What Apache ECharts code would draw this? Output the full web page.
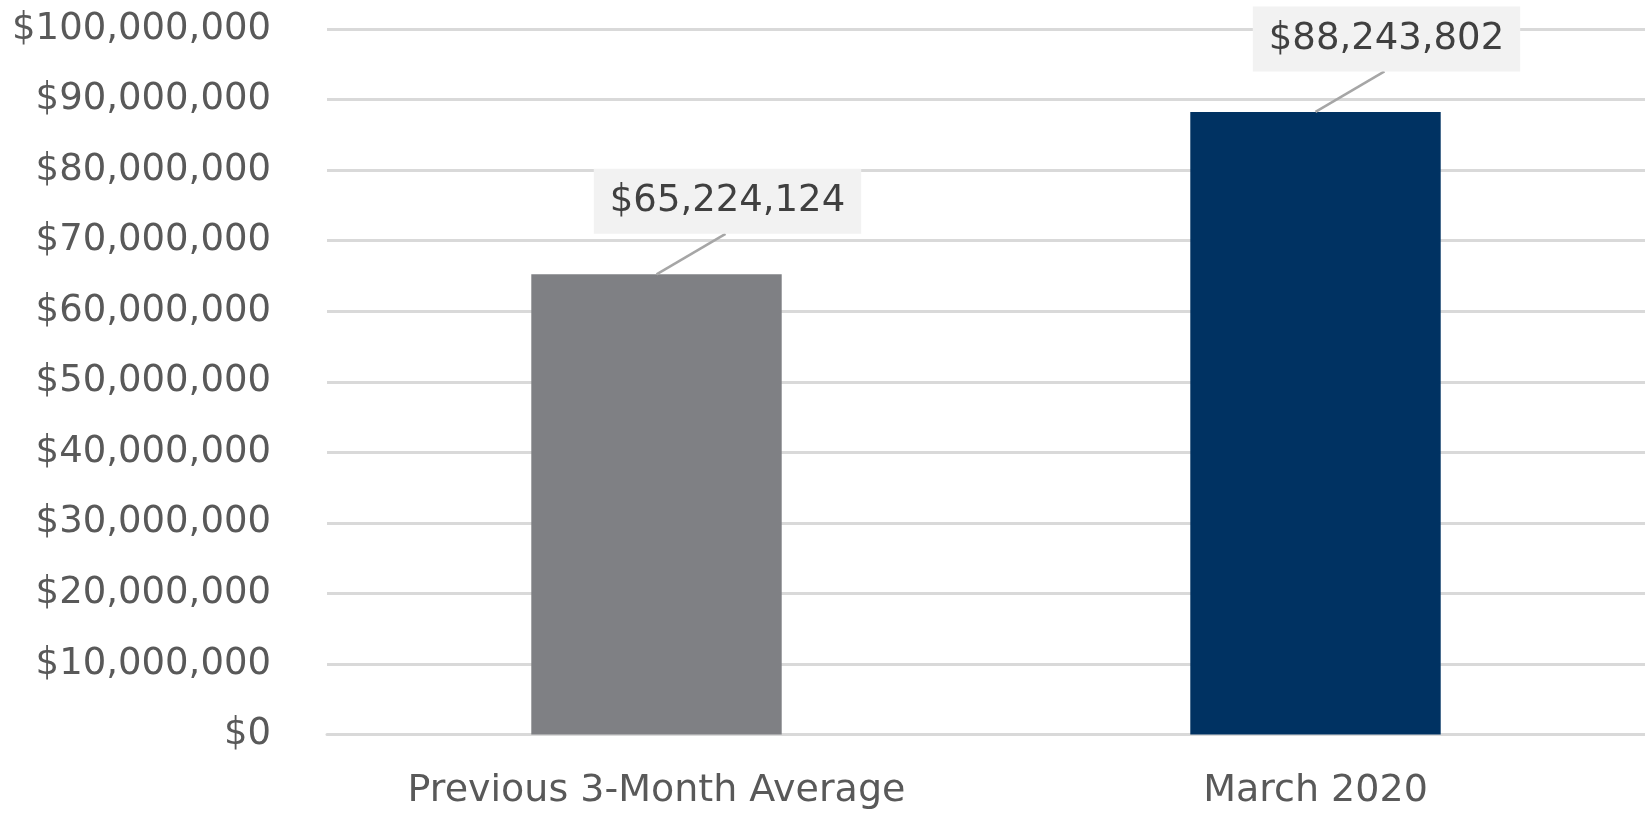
<!DOCTYPE html>
<html>
<head>
<meta charset="utf-8">
<script src="https://cdn.jsdelivr.net/npm/echarts@6/dist/echarts.min.js"></script>
<style>
html,body{margin:0;padding:0;background:#fff;}
#chart{width:1645px;height:816px;}
</style>
</head>
<body>
<div id="chart"></div>
<script>
const categories = ["Previous 3-Month Average", "March 2020"];
const values = [65224124, 88243802];
const barColors = ["#7F8084", "#003262"];
const yTicks = [0, 10000000, 20000000, 30000000, 40000000, 50000000, 60000000, 70000000, 80000000, 90000000, 100000000];

function money(v){ return "$" + Math.round(v).toLocaleString("en-US"); }

const LABEL_DX = 71, LABEL_DY = -73, BOX_H = 65;

const chart = echarts.init(document.getElementById("chart"));
chart.setOption({
  animation: false,
  backgroundColor: "#ffffff",
  grid: { left: 327, right: 0, top: 29, bottom: 81.5, containLabel: false },
  xAxis: {
    type: "category",
    data: categories,
    axisLine: { show: true, lineStyle: { color: "#D9D9D9", width: 3 } },
    axisTick: { show: false },
    axisLabel: { color: "#595959", fontFamily: "DejaVu Sans", fontSize: 38, margin: 38 }
  },
  yAxis: {
    type: "value",
    min: yTicks[0],
    max: yTicks[yTicks.length - 1],
    interval: yTicks[1] - yTicks[0],
    axisLine: { show: false },
    axisTick: { show: false },
    splitLine: { lineStyle: { color: "#D9D9D9", width: 3 } },
    axisLabel: { color: "#595959", fontFamily: "DejaVu Sans", fontSize: 37, margin: 56, formatter: money }
  },
  series: [{
    type: "bar",
    barWidth: "38%",
    data: values.map((v, i) => ({ value: v, itemStyle: { color: barColors[i] } }))
  }, {
    type: "custom",
    clip: false,
    z: 5,
    data: values.map((v, i) => [i, v]),
    renderItem: function (params, api) {
      const p = api.coord([api.value(0), api.value(1)]);
      const cx = p[0] + LABEL_DX, cy = p[1] + LABEL_DY;
      return {
        type: "group",
        children: [
          { type: "line", shape: { x1: p[0], y1: p[1], x2: cx - 2, y2: cy + BOX_H / 2 },
            style: { stroke: "#A6A6A6", lineWidth: 2.5 } },
          { type: "text", x: cx, y: cy,
            style: { text: money(api.value(1)), fill: "#404040", font: '37px "DejaVu Sans"',
                     align: "center", verticalAlign: "middle", lineHeight: 40,
                     backgroundColor: "#F2F2F2", padding: [13, 16, 12, 16] } }
        ]
      };
    }
  }]
});
</script>
</body>
</html>
